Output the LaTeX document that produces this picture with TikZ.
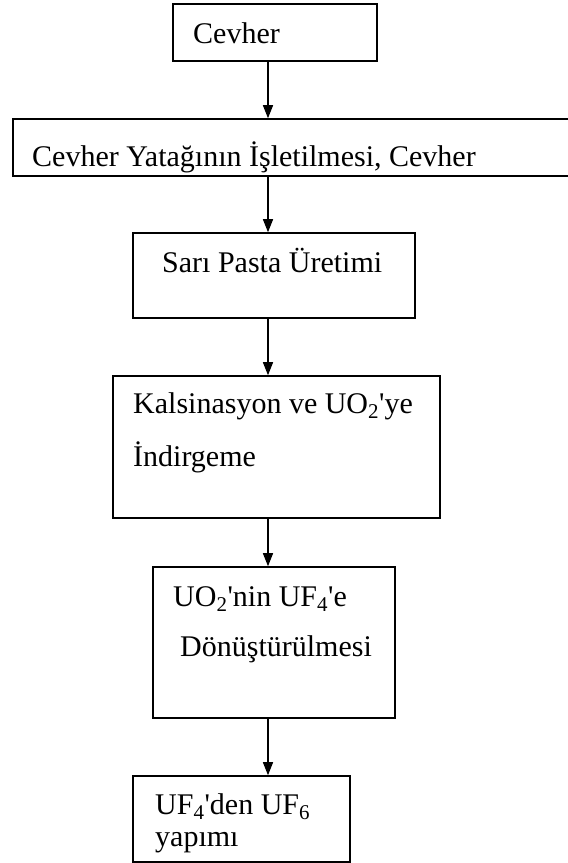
\documentclass[tikz,border=0pt]{standalone}
\usepackage{fontspec}
\setmainfont{Liberation Serif}
\usetikzlibrary{arrows.meta}
\begin{document}
\begin{tikzpicture}[x=1pt,y=-1pt,
  box/.style={draw, line width=1.6pt, rectangle, inner sep=0pt},
  txt/.style={anchor=base west, inner sep=0pt, font=\fontsize{30}{36}\selectfont},
  arr/.style={line width=1.4pt, -{Triangle[width=10pt,length=13pt]}}]
\useasboundingbox (0,0) rectangle (568,863);
\clip (0,0) rectangle (568,863);
\node[box, minimum width=204pt, minimum height=57pt] (b1) at (275,32.5) {};
\node[box, minimum width=572pt, minimum height=57pt] (b2) at (299,147.5) {};
\node[box, minimum width=282pt, minimum height=85pt] (b3) at (274,275.5) {};
\node[box, minimum width=327pt, minimum height=142pt] (b4) at (276.5,447) {};
\node[box, minimum width=242pt, minimum height=151pt] (b5) at (274,642.5) {};
\node[box, minimum width=217pt, minimum height=86pt] (b6) at (241.5,819) {};
\node[txt] (t1) at (193,43) {Cevher};
\node[txt] (t2) at (32,166) {Cevher Yatağının İşletilmesi, Cevher};
\node[txt] (t3) at (162,272) {Sarı Pasta Üretimi};
\node[txt] (t4a) at (133,413) {Kalsinasyon ve UO\textsubscript{2}\textquotesingle ye};
\node[txt] (t4b) at (133,466) {İndirgeme};
\node[txt] (t5a) at (173,606) {UO\textsubscript{2}\textquotesingle nin UF\textsubscript{4}\textquotesingle e};
\node[txt] (t5b) at (180,656) {Dönüştürülmesi};
\node[txt] (t6a) at (155,814) {UF\textsubscript{4}\textquotesingle den UF\textsubscript{6}};
\node[txt] (t6b) at (155,846) {yapımı};
\coordinate (ax) at (268,0);
\draw[arr] (ax |- b1.south) -- (ax |- b2.north);
\draw[arr] (ax |- b2.south) -- (ax |- b3.north);
\draw[arr] (ax |- b3.south) -- (ax |- b4.north);
\draw[arr] (ax |- b4.south) -- (ax |- b5.north);
\draw[arr] (ax |- b5.south) -- (ax |- b6.north);
\end{tikzpicture}
\end{document}
